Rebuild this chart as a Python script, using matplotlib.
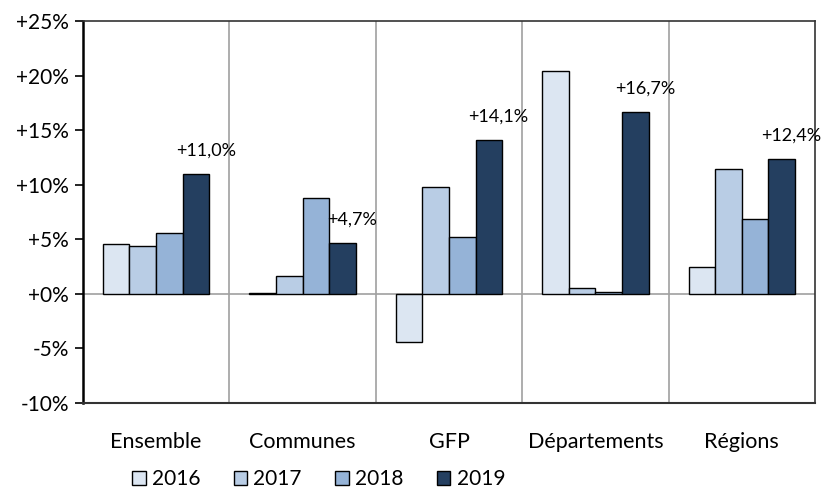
import numpy as np
import matplotlib.pyplot as plt
from matplotlib.patches import Patch

plt.rcParams['font.family'] = ['Lato', 'DejaVu Sans']

categories = ["Ensemble", "Communes", "GFP", "Départements", "Régions"]
years = ["2016", "2017", "2018", "2019"]
v2016 = [4.6, 0.1, -4.4, 20.4, 2.5]
v2017 = [4.4, 1.6, 9.8, 0.5, 11.4]
v2018 = [5.6, 8.8, 5.2, 0.2, 6.9]
v2019 = [11.0, 4.7, 14.1, 16.7, 12.4]
labels_2019 = ["+11,0%", "+4,7%", "+14,1%", "+16,7%", "+12,4%"]
colors = ["#dce6f2", "#b9cde5", "#95b3d7", "#243f60"]

series = [v2016, v2017, v2018, v2019]

fig = plt.figure(figsize=(8.21, 4.93), dpi=100)
ax = fig.add_axes([0.101, 0.1826, 0.8917, 0.7748])

x = np.arange(len(categories))
w = 0.182
for i, vals in enumerate(series):
    ax.bar(x + (i - 1.5) * w, vals, w, color=colors[i], edgecolor="black",
           linewidth=1.0, zorder=3)

for xi, v, lab in zip(x, v2019, labels_2019):
    ax.annotate(lab, (xi + 1.5 * w, v), xytext=(7, 11), textcoords="offset points",
                ha="center", va="bottom", fontsize=13)

ax.set_xlim(-0.5, len(categories) - 0.5)
ax.set_ylim(-10, 25)
ax.set_yticks(np.arange(-10, 26, 5))
ax.set_yticklabels([f"{t:+d}%" if t != 0 else "+0%" for t in range(-10, 26, 5)], fontsize=15)
ax.set_xticks(x)
ax.set_xticklabels(categories, fontsize=15.5)
ax.tick_params(axis="x", length=0, pad=21)
ax.tick_params(axis="y", length=6, width=1.2, direction="out", pad=4)

for b in np.arange(0.5, len(categories) - 0.5, 1):
    ax.axvline(b, color="#a0a0a0", linewidth=1.2, zorder=1)
ax.axhline(0, color="#a0a0a0", linewidth=1.2, zorder=2)

ax.spines["left"].set_linewidth(1.8)
ax.spines["bottom"].set_linewidth(1.5)
ax.spines["top"].set_linewidth(1.2)
ax.spines["right"].set_linewidth(1.2)
ax.spines["right"].set_color("#333333")
ax.spines["top"].set_color("#333333")
ax.spines["bottom"].set_color("#333333")

handles = [Patch(facecolor=c, edgecolor="black", linewidth=1.0) for c in colors]
fig.legend(handles, years, loc="lower left", bbox_to_anchor=(0.138, -0.03), ncol=4,
           frameon=False, fontsize=15, handlelength=0.65, handleheight=0.65,
           handletextpad=0.3, columnspacing=1.6)

fig.savefig("out.png", dpi=100)
